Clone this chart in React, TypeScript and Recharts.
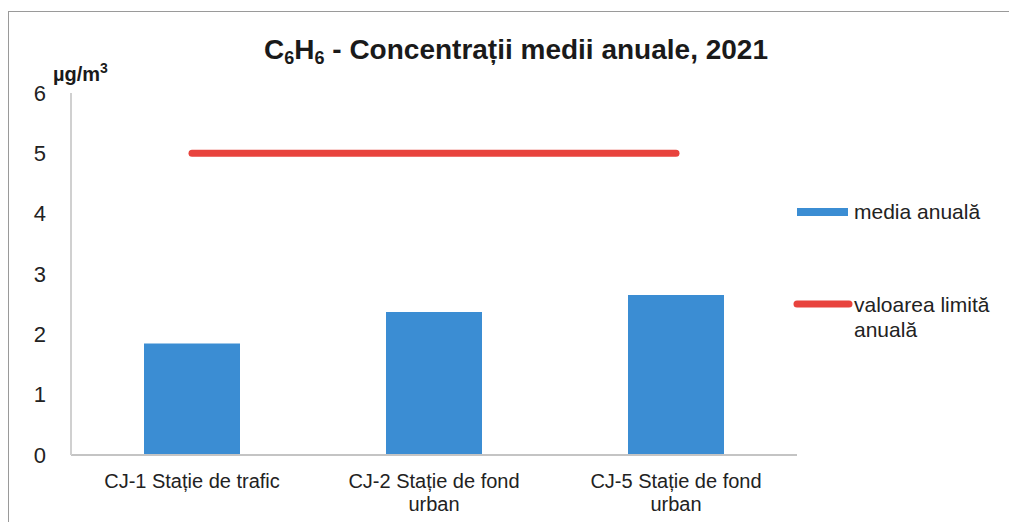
import React from 'react';
import { ComposedChart, Bar, Line, XAxis, YAxis } from 'recharts';

const categories = ['CJ-1 Stație de trafic', 'CJ-2 Stație de fond urban', 'CJ-5 Stație de fond urban'];
const mediaAnuala = [1.85, 2.37, 2.65];
const valoareLimita = [5, 5, 5];
const yTicks = [0, 1, 2, 3, 4, 5, 6];

const BLUE = '#3b8dd3';
const RED = '#e8433d';
const FONT = 'Liberation Sans, Arial, sans-serif';

const data = categories.map((name, i) => ({
  name,
  media: mediaAnuala[i],
  limita: valoareLimita[i],
}));

// split a category label into lines of at most ~21 characters
const wrapLabel = (text: string, max = 21): string[] => {
  const words = text.split(' ');
  const lines: string[] = [];
  let cur = '';
  words.forEach(w => {
    const next = cur ? cur + ' ' + w : w;
    if (next.length > max && cur) {
      lines.push(cur);
      cur = w;
    } else {
      cur = next;
    }
  });
  if (cur) lines.push(cur);
  return lines;
};

const CategoryTick = (props: any) => {
  const { x, y, payload } = props;
  const lines = wrapLabel(payload.value);
  return (
    <text x={x} y={y} textAnchor="middle" fill="#222" fontSize={20} fontFamily={FONT}>
      {lines.map((l, i) => (
        <tspan key={i} x={x} dy={i === 0 ? 25 : 23}>{l}</tspan>
      ))}
    </text>
  );
};

// title, unit and legend drawn on top of the chart
const Overlay = () => (
  <svg width={1009} height={522} style={{ position: 'absolute', left: 0, top: 0, pointerEvents: 'none' }}>
    <text x={516} y={59} textAnchor="middle" fontFamily={FONT} fontWeight="bold" fontSize={28} fill="#1a1a1a">
      C<tspan fontSize={18} dy={5}>6</tspan>
      <tspan dy={-5}>H</tspan>
      <tspan fontSize={18} dy={5}>6</tspan>
      <tspan dy={-5}> - Concentrații medii anuale, 2021</tspan>
    </text>
    <text x={53} y={81} fontFamily={FONT} fontWeight="bold" fontSize={20} fill="#1a1a1a">
      µg/m<tspan fontSize={14} dy={-8}>3</tspan>
    </text>
    <rect x={797} y={208} width={51} height={8} fill={BLUE} />
    <text x={854} y={219} fontFamily={FONT} fontSize={21} fill="#222">media anuală</text>
    <line x1={797} y1={304} x2={849} y2={304} stroke={RED} strokeWidth={7} strokeLinecap="round" />
    <text x={854} y={312} fontFamily={FONT} fontSize={21} fill="#222">valoarea limită</text>
    <text x={854} y={337} fontFamily={FONT} fontSize={21} fill="#222">anuală</text>
  </svg>
);

export default function App() {
  return (
    <div style={{ position: 'absolute', left: 0, top: 0, width: 1009, height: 522, background: '#fff', overflow: 'hidden' }}>
      <div style={{ position: 'absolute', left: 8, top: 11, width: 1001, height: 511, borderLeft: '1px solid #9a9a9a', borderTop: '1px solid #9a9a9a' }} />
      <ComposedChart
        width={1009}
        height={522}
        data={data}
        margin={{ top: 93, right: 212, left: 21, bottom: 7 }}
        style={{ position: 'absolute', left: 0, top: 0 }}
      >
        <XAxis
          dataKey="name"
          height={60}
          tick={<CategoryTick />}
          tickLine={false}
          axisLine={{ stroke: '#c4c4c4', strokeWidth: 2 }}
          interval={0}
        />
        <YAxis
          width={50}
          domain={[0, 6]}
          ticks={yTicks}
          tickSize={0}
          tickMargin={25}
          tickLine={false}
          axisLine={{ stroke: '#d0d0d0', strokeWidth: 2 }}
          tick={{ fill: '#222', fontSize: 22, fontFamily: FONT }}
        />
        <Bar dataKey="media" name="media anuală" fill={BLUE} barSize={96} isAnimationActive={false} />
        <Line
          dataKey="limita"
          name="valoarea limită anuală"
          stroke={RED}
          strokeWidth={7}
          strokeLinecap="round"
          dot={false}
          activeDot={false}
          isAnimationActive={false}
        />
      </ComposedChart>
      <Overlay />
    </div>
  );
}
